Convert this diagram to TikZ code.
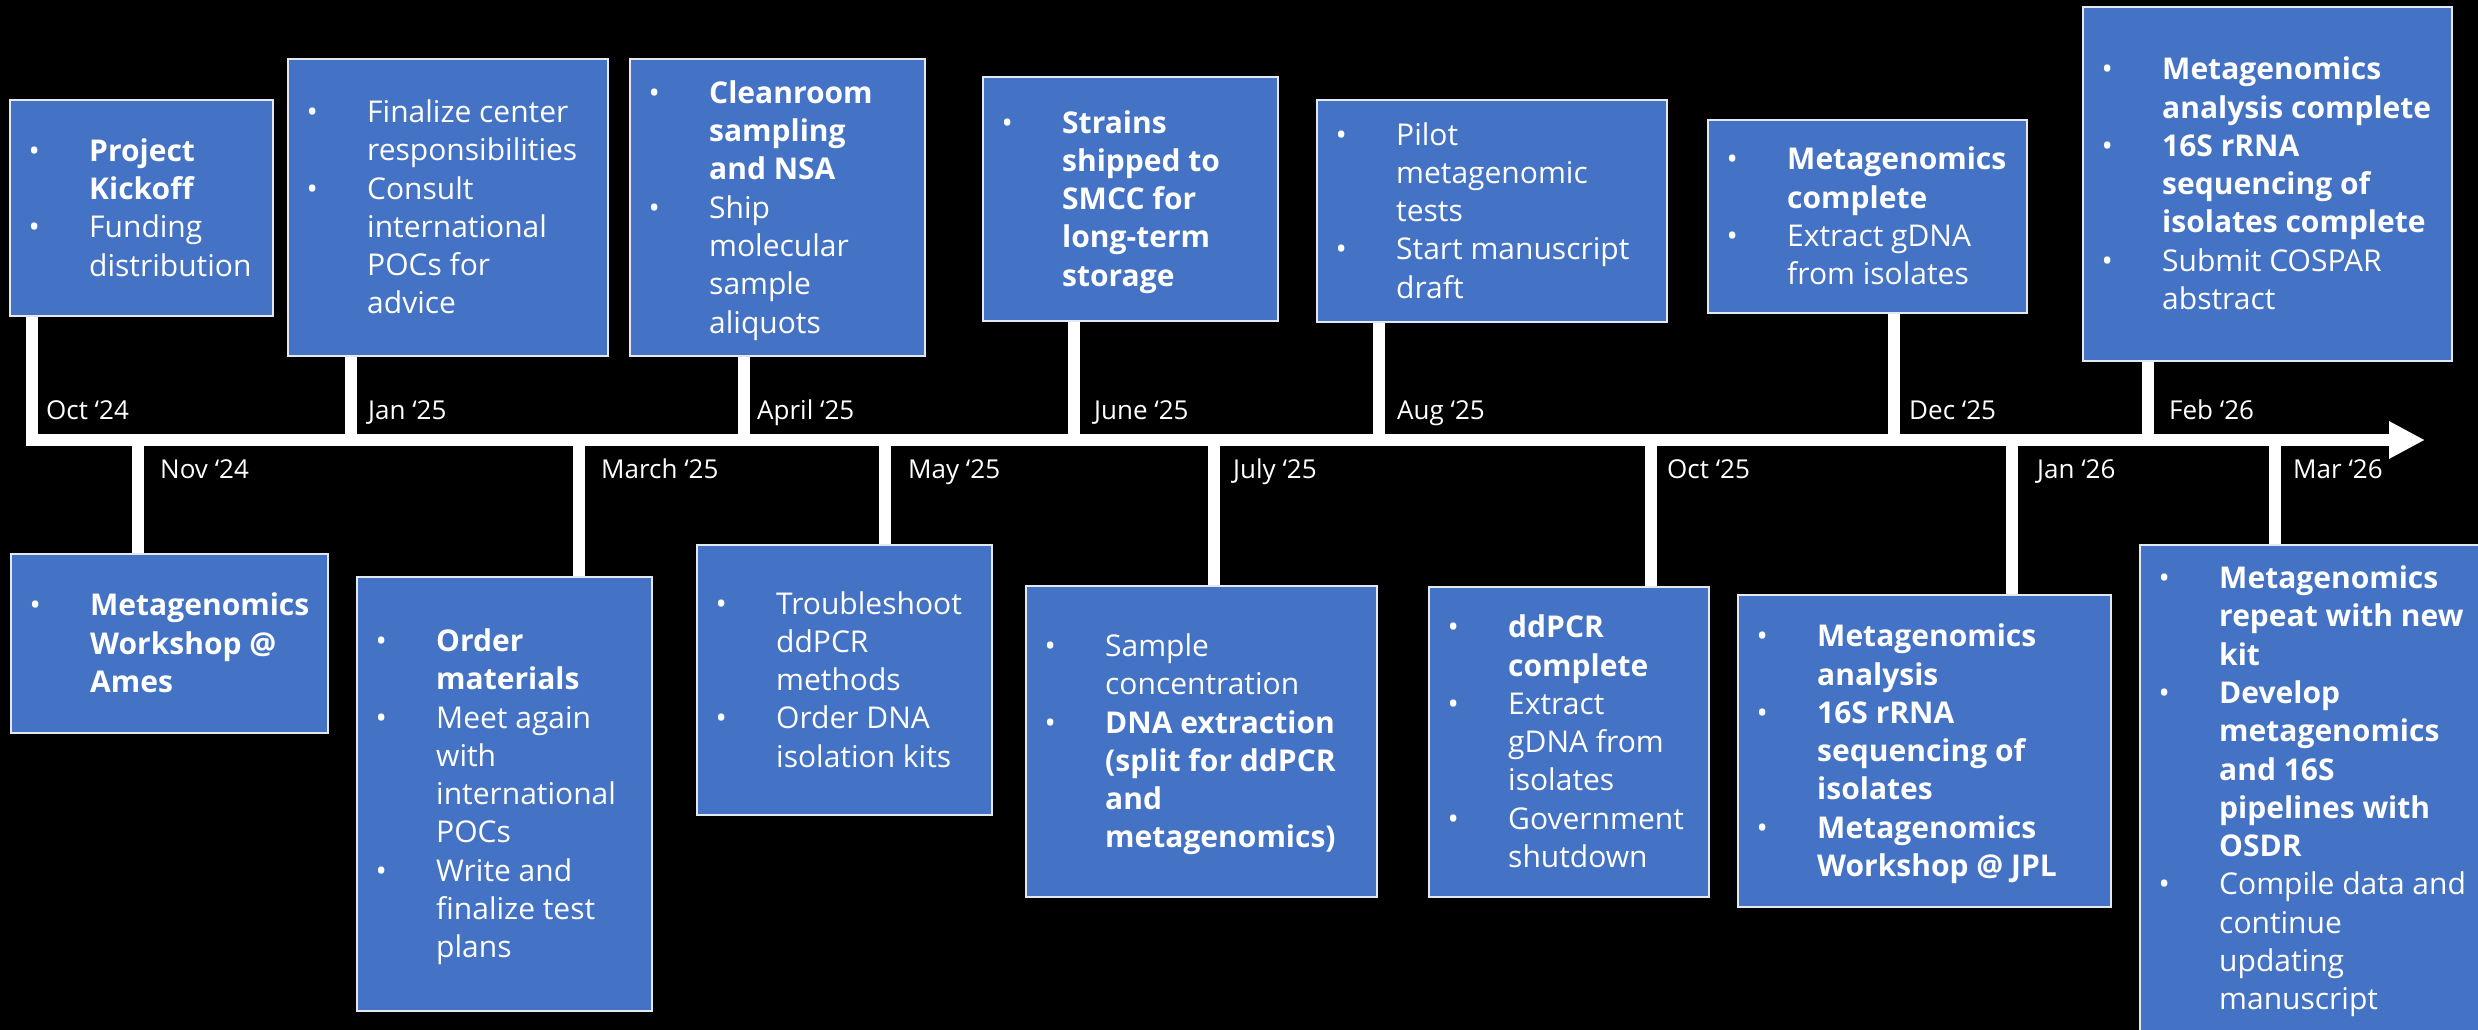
\documentclass[tikz,border=0pt]{standalone}
\usepackage{fontspec}
\setmainfont{Open Sans}
\usetikzlibrary{arrows.meta}
\definecolor{boxblue}{HTML}{4472C4}
\definecolor{boxedge}{HTML}{E4E8F0}
\newcommand{\ebx}[5]{\node[ebox, minimum width={#4-#2}, minimum height={#5-#3}] (#1) at ({(#2+#4)/2},{(#3+#5)/2}) {};}
\newcommand{\blist}[1]{\begin{tabular}{@{}p{60.5pt}@{}l@{}}#1\end{tabular}}
\newcommand{\bu}{•}
\begin{document}
\begin{tikzpicture}[x=1pt,y=-1pt,
  ebox/.style={draw=boxedge, line width=2pt, fill=boxblue, rectangle, inner sep=0pt},
  etext/.style={anchor=west, inner sep=0pt, text=white, font=\fontsize{30}{38.3}\selectfont},
  datelbl/.style={anchor=base west, inner sep=0pt, text=white, font=\fontsize{26}{30}\selectfont},
  stemline/.style={draw=white, line width=12pt},
  axisline/.style={draw=white, line width=12pt, -{Triangle[length=36pt,width=35pt]}},
]
\useasboundingbox (0,0) rectangle (2478,1030);
\fill[black] (0,0) rectangle (2478,1030);
\clip (0,0) rectangle (2478,1030);

% axis
\coordinate (axs) at (26,440);
\coordinate (axe) at (2425,440);
\draw[axisline] (axs) -- (axe);

% stem anchor points on the axis
\coordinate (s1) at (32,446);
\coordinate (s2) at (350.5,440);
\coordinate (s3) at (743.5,440);
\coordinate (s4) at (1074,440);
\coordinate (s5) at (1379,440);
\coordinate (s6) at (1894,440);
\coordinate (s7) at (2147.5,440);
\coordinate (s8) at (138,440);
\coordinate (s9) at (578.5,440);
\coordinate (s10) at (885,440);
\coordinate (s11) at (1214,440);
\coordinate (s12) at (1651,440);
\coordinate (s13) at (2012,440);
\coordinate (s14) at (2275,440);

% boxes
\ebx{b1}{10}{100}{273}{316}
\ebx{b2}{288}{59}{608}{356}
\ebx{b3}{630}{59}{925}{356}
\ebx{b4}{983}{77}{1278}{321}
\ebx{b5}{1317}{100}{1667}{322}
\ebx{b6}{1708}{120}{2027}{313}
\ebx{b7}{2083}{7}{2452}{361}
\ebx{b8}{11}{554}{328}{733}
\ebx{b9}{357}{577}{652}{1011}
\ebx{b10}{697}{545}{992}{815}
\ebx{b11}{1026}{586}{1377}{897}
\ebx{b12}{1429}{587}{1709}{897}
\ebx{b13}{1738}{595}{2111}{907}
\ebx{b14}{2140}{545}{2520}{1032}

% stems (drawn from axis to boxes)
\foreach \i in {1,...,7} { \draw[stemline] (s\i) -- (s\i |- b\i.south); }
\foreach \i in {8,...,14} { \draw[stemline] (s\i) -- (s\i |- b\i.north); }

% redraw boxes over stem ends
\ebx{b1}{10}{100}{273}{316}
\ebx{b2}{288}{59}{608}{356}
\ebx{b3}{630}{59}{925}{356}
\ebx{b4}{983}{77}{1278}{321}
\ebx{b5}{1317}{100}{1667}{322}
\ebx{b6}{1708}{120}{2027}{313}
\ebx{b7}{2083}{7}{2452}{361}
\ebx{b8}{11}{554}{328}{733}
\ebx{b9}{357}{577}{652}{1011}
\ebx{b10}{697}{545}{992}{815}
\ebx{b11}{1026}{586}{1377}{897}
\ebx{b12}{1429}{587}{1709}{897}
\ebx{b13}{1738}{595}{2111}{907}
\ebx{b14}{2140}{545}{2520}{1032}

% box texts
\node[etext] (t1) at ([xshift=19.5pt,yshift=-3pt]b1.west) {\blist{\bu & \textbf{Project}\\ & \textbf{Kickoff}\\ \bu & Funding\\ & distribution}};
\node[etext] (t2) at ([xshift=19.5pt,yshift=-3pt]b2.west) {\blist{\bu & Finalize center\\ & responsibilities\\ \bu & Consult\\ & international\\ & POCs for\\ & advice}};
\node[etext] (t3) at ([xshift=19.5pt,yshift=-3pt]b3.west) {\blist{\bu & \textbf{Cleanroom}\\ & \textbf{sampling}\\ & \textbf{and NSA}\\ \bu & Ship\\ & molecular\\ & sample\\ & aliquots}};
\node[etext] (t4) at ([xshift=19.5pt,yshift=-3pt]b4.west) {\blist{\bu & \textbf{Strains}\\ & \textbf{shipped to}\\ & \textbf{SMCC for}\\ & \textbf{long-term}\\ & \textbf{storage}}};
\node[etext] (t5) at ([xshift=19.5pt,yshift=-3pt]b5.west) {\blist{\bu & Pilot\\ & metagenomic\\ & tests\\ \bu & Start manuscript\\ & draft}};
\node[etext] (t6) at ([xshift=19.5pt,yshift=-3pt]b6.west) {\blist{\bu & \textbf{Metagenomics}\\ & \textbf{complete}\\ \bu & Extract gDNA\\ & from isolates}};
\node[etext] (t7) at ([xshift=19.5pt,yshift=-3pt]b7.west) {\blist{\bu & \textbf{Metagenomics}\\ & \textbf{analysis complete}\\ \bu & \textbf{16S rRNA}\\ & \textbf{sequencing of}\\ & \textbf{isolates complete}\\ \bu & Submit COSPAR\\ & abstract}};
\node[etext] (t8) at ([xshift=19.5pt,yshift=-3pt]b8.west) {\blist{\bu & \textbf{Metagenomics}\\ & \textbf{Workshop @}\\ & \textbf{Ames}}};
\node[etext] (t9) at ([xshift=19.5pt,yshift=-3pt]b9.west) {\blist{\bu & \textbf{Order}\\ & \textbf{materials}\\ \bu & Meet again\\ & with\\ & international\\ & POCs\\ \bu & Write and\\ & finalize test\\ & plans}};
\node[etext] (t10) at ([xshift=19.5pt,yshift=-3pt]b10.west) {\blist{\bu & Troubleshoot\\ & ddPCR\\ & methods\\ \bu & Order DNA\\ & isolation kits}};
\node[etext] (t11) at ([xshift=19.5pt,yshift=-3pt]b11.west) {\blist{\bu & Sample\\ & concentration\\ \bu & \textbf{DNA extraction}\\ & \textbf{(split for ddPCR}\\ & \textbf{and}\\ & \textbf{metagenomics)}}};
\node[etext] (t12) at ([xshift=19.5pt,yshift=-3pt]b12.west) {\blist{\bu & \textbf{ddPCR}\\ & \textbf{complete}\\ \bu & Extract\\ & gDNA from\\ & isolates\\ \bu & Government\\ & shutdown}};
\node[etext] (t13) at ([xshift=19.5pt,yshift=-3pt]b13.west) {\blist{\bu & \textbf{Metagenomics}\\ & \textbf{analysis}\\ \bu & \textbf{16S rRNA}\\ & \textbf{sequencing of}\\ & \textbf{isolates}\\ \bu & \textbf{Metagenomics}\\ & \textbf{Workshop @ JPL}}};
\node[etext] (t14) at ([xshift=19.5pt,yshift=-3pt]b14.west) {\blist{\bu & \textbf{Metagenomics}\\ & \textbf{repeat with new}\\ & \textbf{kit}\\ \bu & \textbf{Develop}\\ & \textbf{metagenomics}\\ & \textbf{and 16S}\\ & \textbf{pipelines with}\\ & \textbf{OSDR}\\ \bu & Compile data and\\ & continue\\ & updating\\ & manuscript}};

% date labels
\node[datelbl] (l1) at (46,419) {Oct ‘24};
\node[datelbl] (l2) at (368,419) {Jan ‘25};
\node[datelbl] (l3) at (757,419) {April ‘25};
\node[datelbl] (l4) at (1094,419) {June ‘25};
\node[datelbl] (l5) at (1397,419) {Aug ‘25};
\node[datelbl] (l6) at (1909,419) {Dec ‘25};
\node[datelbl] (l7) at (2169,419) {Feb ‘26};
\node[datelbl] (l8) at (160,478) {Nov ‘24};
\node[datelbl] (l9) at (601,478) {March ‘25};
\node[datelbl] (l10) at (908,478) {May ‘25};
\node[datelbl] (l11) at (1233,478) {July ‘25};
\node[datelbl] (l12) at (1667,478) {Oct ‘25};
\node[datelbl] (l13) at (2037,478) {Jan ‘26};
\node[datelbl] (l14) at (2293,478) {Mar ‘26};
\end{tikzpicture}
\end{document}
